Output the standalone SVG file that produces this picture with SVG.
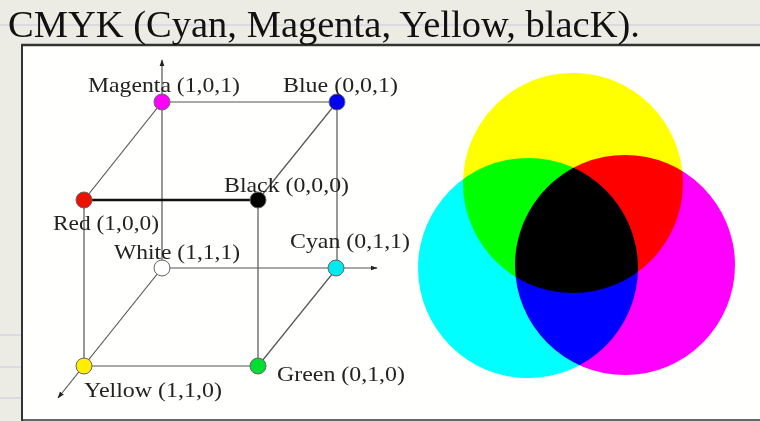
<svg xmlns="http://www.w3.org/2000/svg" width="760" height="421" viewBox="0 0 760 421">
<defs>
<style>
.lbl{font-family:"Liberation Serif","Times New Roman",serif;font-size:22px;fill:#222}
.edge{stroke:#555;stroke-width:1.2;fill:none}
.node{stroke:#666;stroke-width:1}
.rule{stroke:#c9c8dc;stroke-width:1}
</style>
<marker id="arr" viewBox="0 0 10 10" refX="9" refY="5" markerWidth="7" markerHeight="7" orient="auto-start-reverse" markerUnits="userSpaceOnUse">
<path d="M0,1.5 L10,5 L0,8.5 Z" fill="#222"/>
</marker>
</defs>
<rect x="0" y="0" width="760" height="421" fill="#edece4"/>
<line class="rule" x1="0" y1="25" x2="760" y2="25"/>
<line class="rule" x1="0" y1="335" x2="22" y2="335"/>
<line class="rule" x1="0" y1="367" x2="22" y2="367"/>
<line class="rule" x1="0" y1="398" x2="22" y2="398"/>
<rect x="22" y="45" width="738" height="376" fill="#fffffd"/>
<line x1="21" y1="45" x2="760" y2="45" stroke="#333" stroke-width="2.5"/>
<line x1="22" y1="45" x2="22" y2="421" stroke="#333" stroke-width="2"/>
<line x1="22" y1="420" x2="760" y2="420" stroke="#333" stroke-width="1.5"/>
<text x="8" y="37" font-family="Liberation Serif, Times New Roman, serif" font-size="37" fill="#111" textLength="632" lengthAdjust="spacingAndGlyphs">CMYK (Cyan, Magenta, Yellow, blacK).</text>

<g id="connectors">
<line class="edge" x1="162" y1="268" x2="162" y2="60" marker-end="url(#arr)"/>
<line class="edge" x1="162" y1="268" x2="377" y2="268" marker-end="url(#arr)"/>
<line class="edge" x1="162" y1="268" x2="58" y2="398" marker-end="url(#arr)"/>
<line class="edge" x1="162" y1="102" x2="337" y2="102"/>
<line class="edge" x1="162" y1="102" x2="84" y2="200"/>
<line class="edge" x1="337" y1="102" x2="258" y2="200"/>
<line class="edge" x1="337" y1="102" x2="337" y2="268"/>
<line x1="84" y1="200" x2="258" y2="200" stroke="#111" stroke-width="2.5"/>
<line class="edge" x1="84" y1="200" x2="84" y2="366"/>
<line class="edge" x1="258" y1="200" x2="258" y2="366"/>
<line class="edge" x1="337" y1="268" x2="258" y2="366"/>
<line class="edge" x1="84" y1="366" x2="258" y2="366"/>
</g>

<g id="magenta"><circle class="node" cx="162" cy="102" r="8" fill="#ff00ff"/><text class="lbl" x="88" y="92" textLength="152" lengthAdjust="spacingAndGlyphs">Magenta (1,0,1)</text></g>
<g id="blue"><circle class="node" cx="337" cy="102" r="8" fill="#0000ee"/><text class="lbl" x="283" y="92" textLength="115" lengthAdjust="spacingAndGlyphs">Blue (0,0,1)</text></g>
<g id="red"><circle class="node" cx="84" cy="200" r="8" fill="#ee1100"/><text class="lbl" x="53" y="230" textLength="106" lengthAdjust="spacingAndGlyphs">Red (1,0,0)</text></g>
<g id="black"><circle class="node" cx="258" cy="200" r="8" fill="#000"/><text class="lbl" x="224" y="192" textLength="125" lengthAdjust="spacingAndGlyphs">Black (0,0,0)</text></g>
<g id="white"><circle class="node" cx="162" cy="268" r="8" fill="#fff"/><text class="lbl" x="114" y="259" textLength="126" lengthAdjust="spacingAndGlyphs">White (1,1,1)</text></g>
<g id="cyan"><circle class="node" cx="336" cy="268" r="8" fill="#00e8f0"/><text class="lbl" x="290" y="248" textLength="120" lengthAdjust="spacingAndGlyphs">Cyan (0,1,1)</text></g>
<g id="yellow"><circle class="node" cx="84" cy="366" r="8" fill="#ffee00"/><text class="lbl" x="84" y="397" textLength="138" lengthAdjust="spacingAndGlyphs">Yellow (1,1,0)</text></g>
<g id="green"><circle class="node" cx="258" cy="366" r="8" fill="#00dd33"/><text class="lbl" x="277" y="381" textLength="128" lengthAdjust="spacingAndGlyphs">Green (0,1,0)</text></g>

<g id="venn" style="isolation:isolate">
<circle cx="573" cy="183" r="110" fill="#ffff00" style="mix-blend-mode:multiply"/>
<circle cx="528" cy="268" r="110" fill="#00ffff" style="mix-blend-mode:multiply"/>
<circle cx="625" cy="265" r="110" fill="#ff00ff" style="mix-blend-mode:multiply"/>
</g>
</svg>
